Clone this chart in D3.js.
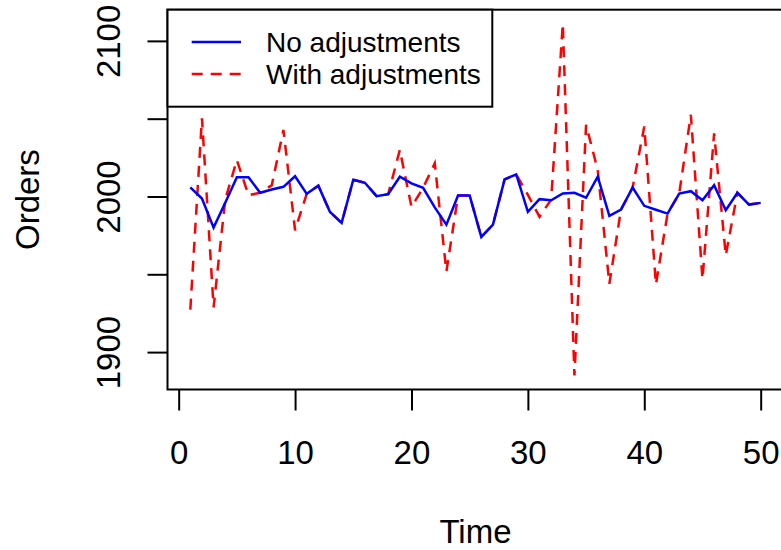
<!DOCTYPE html>
<html>
<head>
<meta charset="utf-8">
<script src="https://cdn.jsdelivr.net/npm/d3@7"></script>
<style>
  body { margin: 0; background: #fff; }
  text { font-family: "Liberation Sans", Arial, Helvetica, sans-serif; fill: #000; }
</style>
</head>
<body>
<div id="chart"></div>
<script>
//Data
var time = d3.range(1, 51);

var noAdjustments = [2005.8, 1998.7, 1980.0, 1996.0, 2012.3, 2012.3, 2002.4, 2004.5, 2006.2, 2013.0,
    2001.7, 2006.9, 1990.1, 1983.0, 2010.8, 2008.8, 2000.2, 2001.5, 2012.7, 2008.4,
    2005.6, 1993.0, 1981.9, 2000.6, 2000.6, 1974.0, 1981.9, 2011.0, 2014.2, 1990.1,
    1998.3, 1997.6, 2001.9, 2002.4, 1999.2, 2012.7, 1987.5, 1991.6, 2005.8, 1994.0,
    1991.5, 1989.0, 2001.9, 2003.4, 1997.6, 2007.3, 1991.2, 2002.4, 1994.8, 1995.9];

var withAdjustments = [1927.3, 2050.3, 1928.8, 1998.0, 2023.4, 2000.8, 2002.4, 2007.3, 2042.8, 1978.3,
    2001.7, 2006.9, 1990.1, 1983.0, 2010.8, 2008.8, 2000.2, 2001.5, 2029.9, 1993.3,
    2005.6, 2021.3, 1951.8, 2000.6, 2000.6, 1974.0, 1981.9, 2011.0, 2014.2, 2001.0,
    1987.0, 1998.0, 2111.0, 1885.0, 2046.0, 2017.0, 1943.9, 1991.6, 2005.8, 2045.0,
    1943.5, 1989.0, 2001.9, 2052.5, 1947.0, 2040.6, 1962.2, 2002.4, 1994.8, 1995.9];

var xTicks = [0, 10, 20, 30, 40, 50];
var yTicks = [1900, 1950, 2000, 2050, 2100];
var yTickLabels = [1900, 2000, 2100];

var seriesNames = ["No adjustments", "With adjustments"];
var seriesColors = ["#0000ff", "#ff0000"];

//Create chart space
var svgWidth = 781;
var svgHeight = 550;

var margin = {
    top: 9.7,
    right: -2.5,
    bottom: 160.5,
    left: 167.5
};

var width = svgWidth - margin.left - margin.right;
var height = svgHeight - margin.top - margin.bottom;

var svg = d3.select("#chart")
    .append("svg")
    .attr("width", svgWidth)
    .attr("height", svgHeight);

var chartGroup = svg.append("g")
    .attr("transform", `translate(${margin.left}, ${margin.top})`);

//Scales, padded 4% like R does
var allValues = noAdjustments.concat(withAdjustments);
var yMin = d3.min(allValues), yMax = d3.max(allValues);
var yPad = (yMax - yMin) * 0.04;
var xPad = (d3.max(time) - d3.min(time)) * 0.04;

var xLinearScale = d3.scaleLinear()
    .domain([d3.min(time) - xPad, d3.max(time) + xPad])
    .range([0, width]);

var yLinearScale = d3.scaleLinear()
    .domain([yMin - yPad, yMax + yPad])
    .range([height, 0]);

//Axes (ticks hang outside the box, axis line sits on the box)
var bottomAxis = d3.axisBottom(xLinearScale)
    .tickValues(xTicks)
    .tickSize(21)
    .tickSizeOuter(0);

var leftAxis = d3.axisLeft(yLinearScale)
    .tickValues(yTicks)
    .tickSize(20)
    .tickFormat(d => yTickLabels.indexOf(d) >= 0 ? d : "")
    .tickSizeOuter(0);

var xAxisGroup = chartGroup.append("g")
    .attr("transform", `translate(0, ${height})`)
    .call(bottomAxis);

var yAxisGroup = chartGroup.append("g")
    .call(leftAxis);

chartGroup.selectAll(".domain").remove();

chartGroup.selectAll(".tick line")
    .attr("stroke-width", 2);

xAxisGroup.selectAll(".tick text")
    .attr("font-size", 33)
    .attr("dy", 0)
    .attr("y", 464 - margin.top - height);

yAxisGroup.selectAll(".tick text")
    .attr("font-size", 33)
    .attr("text-anchor", "middle")
    .attr("dy", 0)
    .attr("x", 0)
    .attr("transform", `translate(${120 - margin.left}, 0) rotate(-90)`);

//Plot box
chartGroup.append("rect")
    .attr("x", 0)
    .attr("y", 0)
    .attr("width", width)
    .attr("height", height)
    .attr("fill", "none")
    .attr("stroke", "#000")
    .attr("stroke-width", 2);

//Lines
var line = d3.line()
    .x((d, i) => xLinearScale(time[i]))
    .y(d => yLinearScale(d));

chartGroup.append("path")
    .datum(withAdjustments)
    .attr("fill", "none")
    .attr("stroke", seriesColors[1])
    .attr("stroke-width", 2.5)
    .attr("stroke-dasharray", "11,8")
    .attr("d", line);

chartGroup.append("path")
    .datum(noAdjustments)
    .attr("fill", "none")
    .attr("stroke", seriesColors[0])
    .attr("stroke-width", 2.5)
    .attr("d", line);

//Legend
var legend = chartGroup.append("g");

legend.append("rect")
    .attr("x", 0)
    .attr("y", 0)
    .attr("width", 492.3 - margin.left)
    .attr("height", 106.7 - margin.top)
    .attr("fill", "#fff")
    .attr("stroke", "#000")
    .attr("stroke-width", 2);

seriesNames.forEach(function(name, i) {
    var ly = 42 - margin.top + i * 32;
    legend.append("line")
        .attr("x1", 191.7 - margin.left)
        .attr("x2", 241 - margin.left)
        .attr("y1", ly)
        .attr("y2", ly)
        .attr("stroke", seriesColors[i])
        .attr("stroke-width", 2.5)
        .attr("stroke-dasharray", i == 1 ? "11,8" : null);
    legend.append("text")
        .attr("x", 266 - margin.left)
        .attr("y", ly + 10)
        .attr("font-size", 28)
        .text(name);
});

//Axis labels
svg.append("text")
    .attr("transform", `translate(38.5, ${margin.top + height / 2}) rotate(-90)`)
    .attr("text-anchor", "middle")
    .attr("font-size", 33)
    .text("Orders");

svg.append("text")
    .attr("x", xLinearScale(25.5) + margin.left)
    .attr("y", 543)
    .attr("text-anchor", "middle")
    .attr("font-size", 33)
    .text("Time");
</script>
</body>
</html>
